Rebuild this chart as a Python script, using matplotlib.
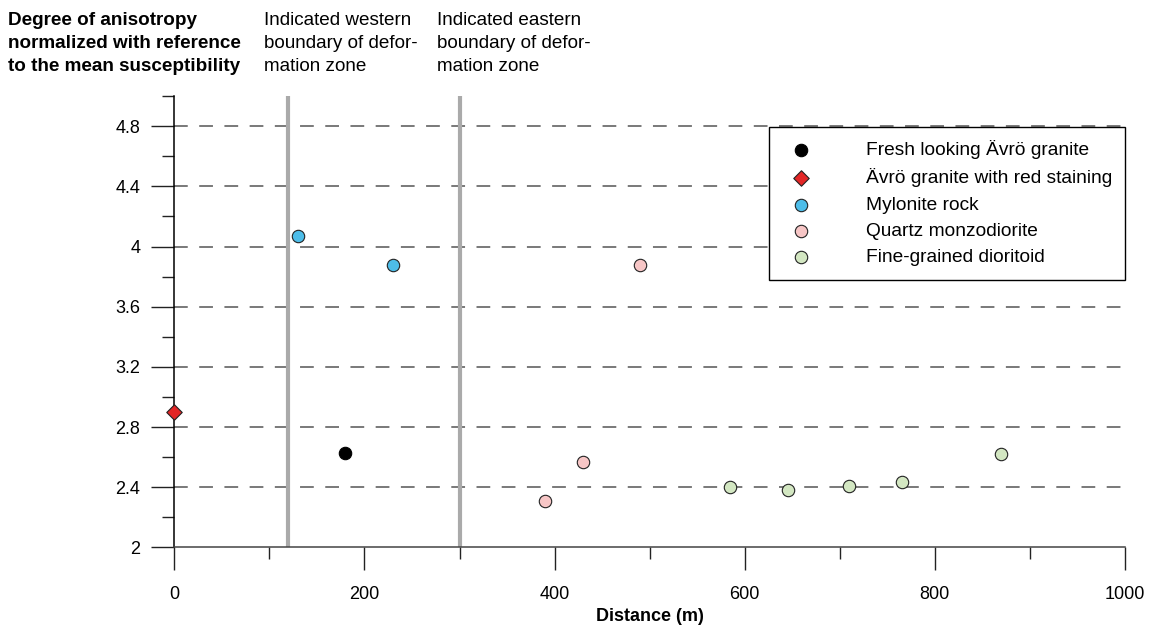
import matplotlib.pyplot as plt
from matplotlib.ticker import MultipleLocator, FixedLocator

plt.rcParams['font.family'] = ['Liberation Sans', 'DejaVu Sans']

# distance along profile (m) and normalized degree of anisotropy
fresh_x = [180]
fresh_y = [2.63]
red_x = [0]
red_y = [2.90]
mylonite_x = [130, 230]
mylonite_y = [4.07, 3.88]
qmd_x = [390, 430, 490]
qmd_y = [2.31, 2.57, 3.88]
dioritoid_x = [585, 645, 710, 765, 870]
dioritoid_y = [2.40, 2.38, 2.41, 2.435, 2.62]

west_boundary = 120
east_boundary = 300

fig = plt.figure(figsize=(11.53, 6.26), dpi=100)
ax = fig.add_axes([0.1512, 0.1254, 0.8245, 0.7212])

ax.set_xlim(0, 1000)
ax.set_ylim(2, 5)

for s in ['top', 'right']:
    ax.spines[s].set_visible(False)
ax.spines['left'].set_linewidth(1.1)
ax.spines['bottom'].set_linewidth(1.1)
ax.spines['bottom'].set_color('#444444')

ax.xaxis.set_major_locator(MultipleLocator(200))
ax.xaxis.set_minor_locator(MultipleLocator(100))
ax.yaxis.set_major_locator(FixedLocator([2, 2.4, 2.8, 3.2, 3.6, 4, 4.4, 4.8]))
ax.yaxis.set_minor_locator(FixedLocator([2.2, 2.6, 3.0, 3.4, 3.8, 4.2, 4.6, 5.0]))
ax.set_yticklabels(['2', '2.4', '2.8', '3.2', '3.6', '4', '4.4', '4.8'])

ax.tick_params(axis='both', which='major', direction='out', length=16.5,
               width=1, labelsize=13, color='#222222')
ax.tick_params(axis='both', which='minor', direction='out', length=8.3,
               width=1, color='#222222')
ax.tick_params(axis='x', which='major', pad=11)
ax.tick_params(axis='y', which='major', pad=8)

# dashed reference lines
for yv in [2.4, 2.8, 3.2, 3.6, 4.0, 4.4, 4.8]:
    ax.axhline(yv, color='#555555', lw=1.1, dashes=(9, 7.5), zorder=1)

ax.axvline(west_boundary, color='#aaaaaa', lw=3, zorder=2)
ax.axvline(east_boundary, color='#aaaaaa', lw=3, zorder=2)

ax.scatter(fresh_x, fresh_y, s=80, marker='o', color='black',
           edgecolors='black', linewidths=0.8, zorder=5,
           label='Fresh looking Ävrö granite', clip_on=False)
ax.scatter(red_x, red_y, s=62, marker='D', color='#e32626',
           edgecolors='#222222', linewidths=0.8, zorder=5,
           label='Ävrö granite with red staining', clip_on=False)
ax.scatter(mylonite_x, mylonite_y, s=80, marker='o', color='#4dbde9',
           edgecolors='#222222', linewidths=0.8, zorder=5,
           label='Mylonite rock', clip_on=False)
ax.scatter(qmd_x, qmd_y, s=80, marker='o', color='#f7c6c6',
           edgecolors='#222222', linewidths=0.8, zorder=5,
           label='Quartz monzodiorite', clip_on=False)
ax.scatter(dioritoid_x, dioritoid_y, s=80, marker='o', color='#d3e7c2',
           edgecolors='#222222', linewidths=0.8, zorder=5,
           label='Fine-grained dioritoid', clip_on=False)

leg = ax.legend(loc='upper right', bbox_to_anchor=(1.0, 0.931),
                fontsize=13.8, frameon=True, fancybox=False,
                borderpad=0.68, handlelength=1.98, handletextpad=2.4,
                labelspacing=0.47, borderaxespad=0, scatterpoints=1)
leg.get_frame().set_edgecolor('black')
leg.get_frame().set_linewidth(1)
leg.get_frame().set_alpha(1)
leg.set_zorder(10)

ax.set_xlabel('Distance (m)', fontsize=13, fontweight='bold', labelpad=4)

top = 1 - 12 / 626
fig.text(8 / 1153, top,
         'Degree of anisotropy\nnormalized with reference\nto the mean susceptibility',
         fontsize=13.6, fontweight='bold', ha='left', va='top', linespacing=1.45)
fig.text(264 / 1153, top,
         'Indicated western\nboundary of defor-\nmation zone',
         fontsize=13.6, ha='left', va='top', linespacing=1.45)
fig.text(437 / 1153, top,
         'Indicated eastern\nboundary of defor-\nmation zone',
         fontsize=13.6, ha='left', va='top', linespacing=1.45)

fig.savefig('out.png', dpi=100)
